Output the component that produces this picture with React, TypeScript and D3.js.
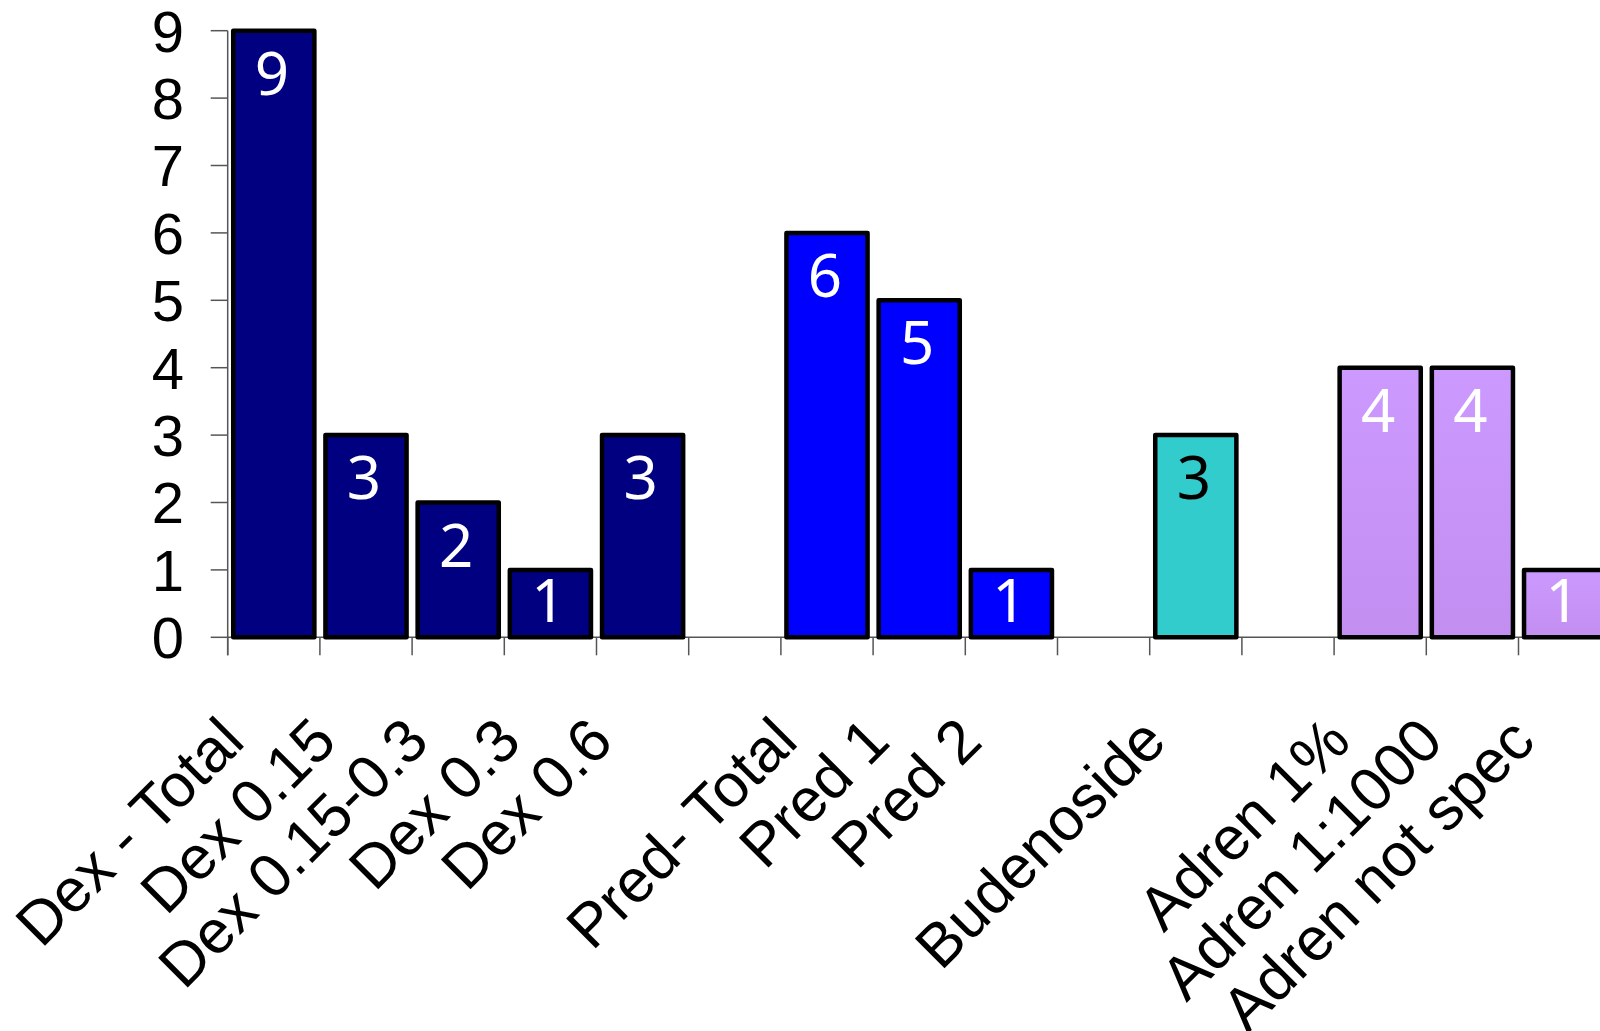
import React from "react";
import * as d3 from "d3";

const categories: string[] = [
  "Dex - Total", "Dex 0.15", "Dex 0.15-0.3", "Dex 0.3", "Dex 0.6", "",
  "Pred- Total", "Pred 1", "Pred 2", "",
  "Budenoside", "",
  "Adren 1%", "Adren 1:1000", "Adren not spec",
];
const values: (number | null)[] = [9, 3, 2, 1, 3, null, 6, 5, 1, null, 3, null, 4, 4, 1];
const groups: string[] = ["dex", "dex", "dex", "dex", "dex", "", "pred", "pred", "pred", "", "bud", "", "adren", "adren", "adren"];
const yTicks: number[] = [0, 1, 2, 3, 4, 5, 6, 7, 8, 9];

const fills: Record<string, string> = {
  dex: "#000080",
  pred: "#0000FF",
  bud: "#33CCCC",
  adren: "url(#adrenGrad)",
};
const labelColors: Record<string, string> = {
  dex: "#FFFFFF",
  pred: "#FFFFFF",
  bud: "#000000",
  adren: "#FFFFFF",
};

export default function App() {
  const W = 1600;
  const H = 1031;
  const x0 = 227.7;
  const step = 92.2;
  const x = d3
    .scaleBand<number>()
    .domain(categories.map((_, i) => i))
    .range([x0, x0 + step * categories.length])
    .paddingInner(0.12)
    .paddingOuter(0.06);
  const y = d3.scaleLinear().domain([0, 9]).range([637.3, 30.7]);
  const bw = x.bandwidth();

  return (
    <svg
      width={W}
      height={H}
      style={{ position: "absolute", left: 0, top: 0, background: "#fff" }}
      fontFamily="'Liberation Sans', Arial, sans-serif"
    >
      <defs>
        <linearGradient id="adrenGrad" x1="0" y1="0" x2="0" y2="1">
          <stop offset="0" stopColor="#CC99FF" />
          <stop offset="1" stopColor="#C28EF0" />
        </linearGradient>
        <clipPath id="clipAll">
          <rect x={0} y={0} width={W} height={H} />
        </clipPath>
      </defs>
      <g clipPath="url(#clipAll)">
        {/* y axis line */}
        <line x1={x0} x2={x0} y1={y(9)} y2={y(0) + 18} stroke="#555" strokeWidth={1.5} />
        {/* y ticks */}
        {yTicks.map((t) => (
          <g key={"yt" + t}>
            <line x1={x0 - 17} x2={x0} y1={y(t)} y2={y(t)} stroke="#555" strokeWidth={1.5} />
            <text x={184} y={y(t)} dy="0.36em" textAnchor="end" fontSize={58} fill="#000">
              {t}
            </text>
          </g>
        ))}
        {/* x axis baseline */}
        <line x1={x0} x2={W + 20} y1={y(0)} y2={y(0)} stroke="#555" strokeWidth={1.5} />
        {/* x ticks at band boundaries */}
        {d3.range(categories.length + 1).map((i) => (
          <line
            key={"xt" + i}
            x1={x0 + i * step}
            x2={x0 + i * step}
            y1={y(0)}
            y2={y(0) + 18}
            stroke="#555"
            strokeWidth={1.5}
          />
        ))}
        {/* bars */}
        {categories.map((c, i) => {
          const v = values[i];
          if (v == null) return null;
          const bx = x(i)!;
          const base = Math.min(y(v) + 64, y(0) - 15);
          return (
            <g key={"bar" + i}>
              <rect
                x={bx}
                y={y(v)}
                width={bw}
                height={y(0) - y(v)}
                fill={fills[groups[i]]}
                stroke="#000"
                strokeWidth={4.5}
                strokeLinejoin="round"
              />
              <text
                x={bx + bw / 2 - 2}
                y={base}
                textAnchor="middle"
                fontSize={60}
                fontFamily="'Noto Sans', sans-serif"
                fill={labelColors[groups[i]]}
              >
                {v}
              </text>
            </g>
          );
        })}
        {/* x labels */}
        {categories.map((c, i) =>
          c ? (
            <text
              key={"xl" + i}
              transform={`translate(${x(i)! + bw / 2 - 27},744) rotate(-45)`}
              textAnchor="end"
              fontSize={61}
              fill="#000"
            >
              {c}
            </text>
          ) : null
        )}
      </g>
    </svg>
  );
}
